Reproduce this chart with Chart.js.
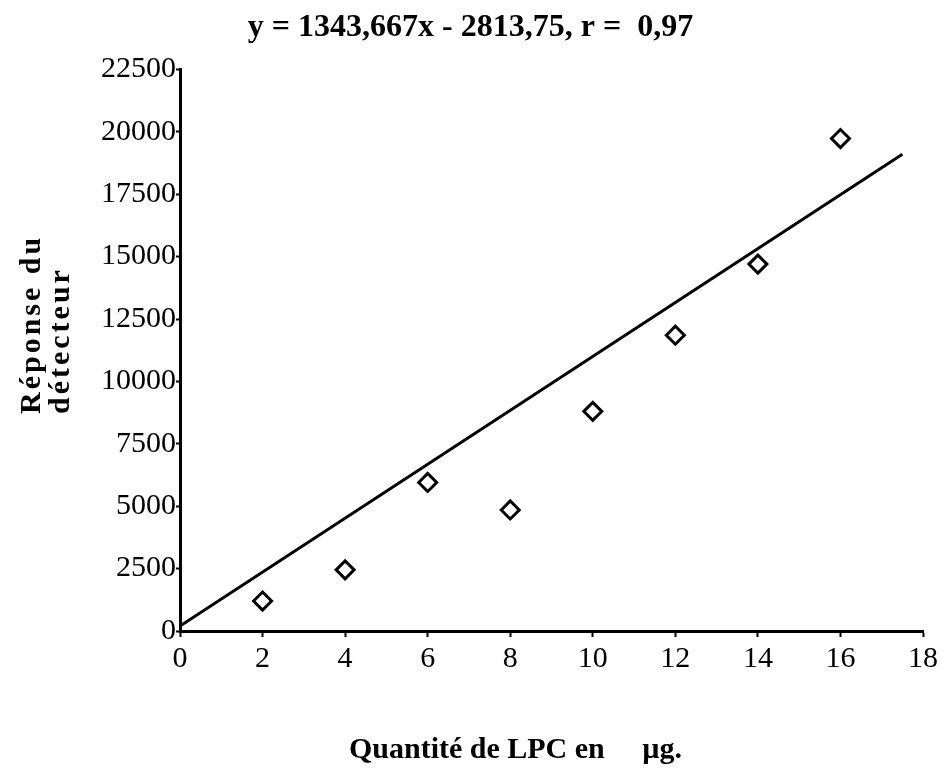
<!DOCTYPE html>
<html>
<head>
<meta charset="utf-8">
<script src="https://cdn.jsdelivr.net/npm/chart.js@4"></script>
<style>
  html, body { margin: 0; padding: 0; background: #fff; }
  #wrap { width: 945px; height: 772px; }
</style>
</head>
<body>
<div id="wrap"><canvas id="myChart" width="945" height="772"></canvas></div>
<script>
// quantité de LPC (µg) et réponse du détecteur
const quantites = [2, 4, 6, 8, 10, 12, 14, 16];
const reponses = [1200, 2450, 5950, 4850, 8800, 11850, 14700, 19730];

// droite tracée sur la figure
const droiteX = [0, 17.5];
const droiteY = [200, 19100];

const titre = "y = 1343,667x - 2813,75, r =  0,97";
const titreX = "Quantité de LPC en     µg.";
const titreY = ["Réponse du", "détecteur"];
const serif = "'Liberation Serif', 'Times New Roman', serif";

const points = quantites.map((x, i) => ({ x: x, y: reponses[i] }));
const droite = droiteX.map((x, i) => ({ x: x, y: droiteY[i] }));

// décale le titre d'un axe et espace les lettres
const axisTitleShift = {
  id: "axisTitleShift",
  afterLayout(chart) {
    const shifts = { x: [-36, 0, 0], y: [0, -217, 3] };
    Object.keys(shifts).forEach((id) => {
      const scale = chart.scales[id];
      if (!scale || scale._shifted) return;
      const orig = scale.drawTitle;
      const [dx, dy, spacing] = shifts[id];
      scale.drawTitle = function () {
        const ctx = this.ctx;
        ctx.save();
        ctx.translate(dx, dy);
        ctx.letterSpacing = spacing + "px";
        orig.apply(this, arguments);
        ctx.restore();
      };
      scale._shifted = true;
    });
  },
};

const data = {
  datasets: [
    {
      type: "line",
      label: "Droite",
      data: droite,
      borderColor: "#000",
      borderWidth: 3,
      pointRadius: 0,
      fill: false,
    },
    {
      type: "scatter",
      label: "Mesures",
      data: points,
      pointStyle: "rectRot",
      pointRadius: 9,
      pointBorderWidth: 3,
      borderColor: "#000",
      backgroundColor: "#fff",
    },
  ],
};

const config = {
  type: "scatter",
  data: data,
  options: {
    responsive: false,
    animation: false,
    layout: { padding: { left: 18, right: 22, top: 0, bottom: 4 } },
    plugins: {
      legend: { display: false },
      tooltip: { enabled: false },
      title: {
        display: true,
        text: titre,
        color: "#000",
        font: { family: serif, size: 32, weight: "bold" },
        padding: { top: 9, bottom: 22 },
      },
    },
    scales: {
      x: {
        type: "linear",
        min: 0,
        max: 18,
        ticks: {
          stepSize: 2,
          color: "#000",
          font: { family: serif, size: 30 },
          padding: 4,
          callback: (v) => String(v),
        },
        grid: {
          drawOnChartArea: false,
          tickLength: 6,
          tickColor: "#000",
          tickWidth: 2,
        },
        border: { color: "#000", width: 3 },
        title: {
          display: true,
          text: titreX,
          color: "#000",
          font: { family: serif, size: 30, weight: "bold" },
          padding: { top: 51, bottom: 0 },
        },
      },
      y: {
        type: "linear",
        min: 0,
        max: 22500,
        ticks: {
          stepSize: 2500,
          color: "#000",
          font: { family: serif, size: 30 },
          padding: 0,
          callback: (v) => String(v),
        },
        grid: {
          drawOnChartArea: false,
          tickLength: 4,
          tickColor: "#000",
          tickWidth: 2,
        },
        border: { color: "#000", width: 3 },
        title: {
          display: true,
          text: titreY,
          align: "start",
          color: "#000",
          font: { family: serif, size: 30, weight: "bold", lineHeight: 0.95 },
          padding: { top: 0, bottom: 26 },
        },
      },
    },
  },
  plugins: [axisTitleShift],
};

new Chart(document.getElementById("myChart"), config);
</script>
</body>
</html>
